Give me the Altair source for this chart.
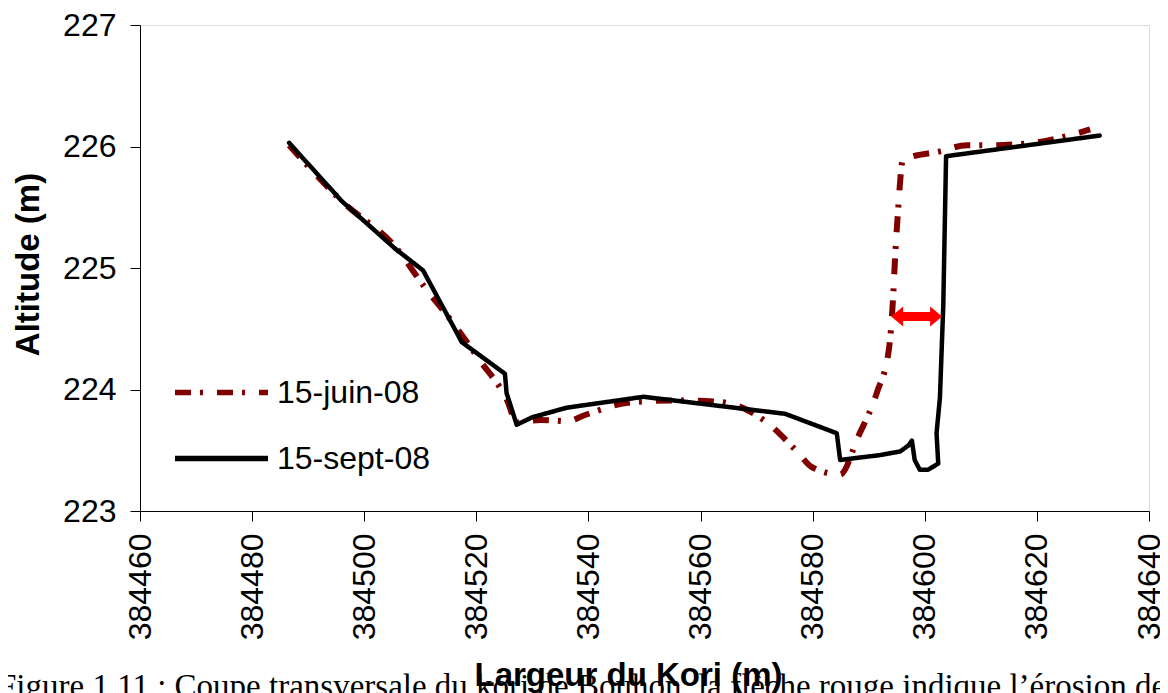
import altair as alt
import pandas as pd

# ---- data ----
series = ["15-juin-08", "15-sept-08"]

juin_x = [384486.6, 384496.0, 384505.8, 384510.8, 384515.8, 384520.6, 384525.5, 384527.2,
          384531.4, 384536.3, 384539.4, 384547.0, 384555.4, 384563.1, 384571.8, 384577.2,
          384579.9, 384584.9, 384588.1, 384591.5, 384593.6, 384594.3, 384594.7, 384595.2,
          384596.1, 384602.7, 384607.5, 384611.3, 384619.3, 384627.3, 384629.5]
juin_y = [226.01, 225.55, 225.16, 224.84, 224.55, 224.24, 223.91, 223.73,
          223.75, 223.74, 223.79, 223.89, 223.91, 223.90, 223.73, 223.49,
          223.36, 223.30, 223.61, 223.98, 224.33, 224.72, 225.08, 225.45,
          225.89, 225.96, 226.01, 226.01, 226.03, 226.11, 226.14]

sept_x = [384486.6, 384496.0, 384505.5, 384510.5, 384517.4, 384525.1, 384525.4, 384527.2,
          384529.9, 384536.1, 384549.8, 384575.1, 384584.3, 384584.9, 384592.0, 384595.6,
          384597.1, 384597.7, 384598.2, 384599.1, 384600.6, 384602.4, 384602.1, 384602.7,
          384603.3, 384603.8, 384631.2]
sept_y = [226.03, 225.55, 225.16, 224.98, 224.39, 224.13, 223.97, 223.71,
          223.77, 223.85, 223.94, 223.80, 223.64, 223.42, 223.46, 223.49,
          223.54, 223.58, 223.42, 223.34, 223.34, 223.39, 223.64, 223.93,
          224.69, 225.92, 226.09]

x_ticks = [384460, 384480, 384500, 384520, 384540, 384560, 384580, 384600, 384620, 384640]
y_ticks = [223, 224, 225, 226, 227]

arrow_left = [384594.0]
arrow_right = [384603.1]
arrow_level = [224.6]

caption = "Figure 1.11 : Coupe transversale du kori de Bouhon, la flèche rouge indique l’érosion de"

# ---- tables ----
juin_df = pd.DataFrame({"x": juin_x, "y": juin_y, "series": series[0], "order": list(range(len(juin_x)))})
sept_df = pd.DataFrame({"x": sept_x, "y": sept_y, "series": series[1], "order": list(range(len(sept_x)))})
arrow_df = pd.DataFrame({"xl": arrow_left, "xr": arrow_right, "y": arrow_level})
cap_df = pd.DataFrame({"t": [caption]})

FONT = "Liberation Sans"

xs = alt.Scale(domain=[x_ticks[0], x_ticks[-1]], nice=False, zero=False)
ys = alt.Scale(domain=[y_ticks[0], y_ticks[-1]], nice=False, zero=False)

x_axis = alt.Axis(values=x_ticks, format="d", labelAngle=270, labelFontSize=32, labelFont=FONT,
                  labelColor="black", labelPadding=12, tickSize=10, tickColor="black",
                  domainColor="black", grid=False, title="Largeur du Kori (m)",
                  titleFont=FONT, titleFontSize=33, titleFontWeight="bold", titleColor="black",
                  titleX=488, titleY=174, titleBaseline="alphabetic", titleAlign="center",
                  zindex=1)
y_axis = alt.Axis(values=y_ticks, format="d", labelFontSize=32, labelFont=FONT, labelColor="black",
                  labelPadding=14, tickSize=10, tickColor="black", domainColor="black",
                  grid=False, title="Altitude (m)", titleFont=FONT, titleFontSize=33,
                  titleFontWeight="bold", titleColor="black", titleAngle=270,
                  titleX=-112, titleY=239, titleBaseline="middle", titleAlign="center")

leg = dict(title=None, orient="none", legendX=32, legendY=318,
           symbolType="stroke", symbolSize=8649, symbolStrokeWidth=5.5,
           labelFontSize=32, labelFont=FONT, labelColor="black",
           rowPadding=0, labelOffset=6, padding=0)
color = alt.Color("series:N", scale=alt.Scale(domain=series, range=["#800000", "#000000"]),
                  legend=alt.Legend(**leg))
dash = alt.StrokeDash("series:N", scale=alt.Scale(domain=series, range=[[16, 9, 3, 14], [1, 0]]),
                      legend=alt.Legend(**leg))

X = alt.X("x:Q", scale=xs, axis=x_axis)
Y = alt.Y("y:Q", scale=ys, axis=y_axis)

brown = alt.Chart(juin_df).mark_line(interpolate="monotone", strokeWidth=6, strokeCap="butt").encode(
    x=X, y=Y, color=color, strokeDash=dash, order="order:Q")
black = alt.Chart(sept_df).mark_line(strokeWidth=4.5, strokeJoin="round", strokeCap="round").encode(
    x=X, y=Y, color=color, strokeDash=dash, order="order:Q")

shaft = alt.Chart(arrow_df).mark_rule(color="#ff0000", strokeWidth=9, xOffset=8, x2Offset=-8).encode(
    x=alt.X("xl:Q", scale=xs), x2="xr:Q", y=alt.Y("y:Q", scale=ys))
head_l = alt.Chart(arrow_df).mark_point(shape="M 0 0 L 1.2 -1 L 1.2 1 Z", size=400, filled=True,
                                        color="#ff0000", opacity=1, strokeWidth=0).encode(
    x=alt.X("xl:Q", scale=xs), y=alt.Y("y:Q", scale=ys))
head_r = alt.Chart(arrow_df).mark_point(shape="M 0 0 L -1.2 -1 L -1.2 1 Z", size=400, filled=True,
                                        color="#ff0000", opacity=1, strokeWidth=0).encode(
    x=alt.X("xr:Q", scale=xs), y=alt.Y("y:Q", scale=ys))

cap = alt.Chart(cap_df).mark_text(align="left", baseline="alphabetic", font="Liberation Serif",
                                  fontSize=33, color="black").encode(
    x=alt.value(-142), y=alt.value(672), text="t:N")

chart = alt.layer(cap, brown, black, shaft, head_l, head_r).properties(
    width=1009, height=486,
    autosize=alt.AutoSizeParams(type="none"),
    padding={"left": 132, "top": 17, "right": 11, "bottom": 182},
).configure_view(stroke=None).configure(background="white")

chart.save("out.html", embed_options={"renderer": "svg", "actions": False})
